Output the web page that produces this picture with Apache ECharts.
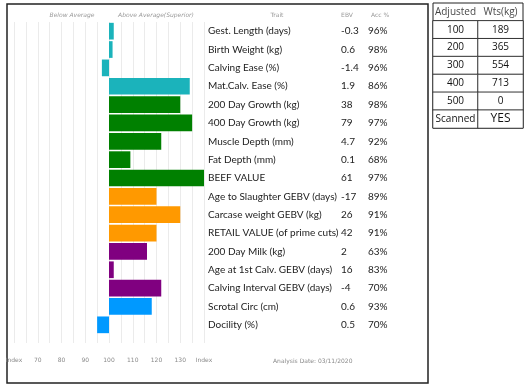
<!DOCTYPE html>
<html><head><meta charset="utf-8">
<script src="https://cdn.jsdelivr.net/npm/echarts@6/dist/echarts.min.js"></script>
<style>html,body{margin:0;padding:0;background:#fff}#c{width:528px;height:386px}</style>
</head><body><div id="c"></div>
<script>
// ---- data ----
const traits = ['Gest. Length (days)','Birth Weight (kg)','Calving Ease (%)','Mat.Calv. Ease (%)','200 Day Growth (kg)','400 Day Growth (kg)','Muscle Depth (mm)','Fat Depth (mm)','BEEF VALUE','Age to Slaughter GEBV (days)','Carcase weight GEBV (kg)','RETAIL VALUE (of prime cuts)','200 Day Milk (kg)','Age at 1st Calv. GEBV (days)','Calving Interval GEBV (days)','Scrotal Circ (cm)','Docility (%)'];
const indexValues = [102,101.5,97,134,130,135,122,109,140,120,130,120,116,102,122,118,95];
const ebvs = ['-0.3','0.6','-1.4','1.9','38','79','4.7','0.1','61','-17','26','42','2','16','-4','0.6','0.5'];
const accs = ['96%','98%','96%','86%','98%','97%','92%','68%','97%','89%','91%','91%','63%','83%','70%','93%','70%'];
const groups = [0,0,0,0,1,1,1,1,1,2,2,2,3,3,3,4,4];
const groupColors = ['#1bb3bb','#008000','#ff9900','#800080','#0099ff'];
const indexTicks = [60,70,80,90,100,110,120,130,140];
const tableHeader = ['Adjusted','Wts(kg)'];
const weightAges = ['100','200','300','400','500','Scanned'];
const adjustedWts = ['189','365','554','713','0','YES'];
const analysisDate = '03/11/2020';

const chart = echarts.init(document.getElementById('c'));
const rowCats = traits.map((t,i)=>String(i));
const tableRows = ['h'].concat(weightAges);
const heatData = [];
weightAges.forEach((a,i)=>{ heatData.push([0,i+1,0]); heatData.push([1,i+1,0]); });
const txt = {color:'#222', fontFamily:'Lato', fontSize:10};
chart.setOption({
  animation:false,
  grid:[
    {left:14,right:324,top:22,bottom:43},
    {left:14,right:324,top:22,height:312},
    {left:433,right:5,top:3,height:125,show:true,borderColor:'#222',borderWidth:1,backgroundColor:'#fff'}
  ],
  xAxis:[
    {gridIndex:0,type:'value',min:60,max:140,interval:5,
     splitLine:{show:true,lineStyle:{color:'#ebebeb',width:1}},
     axisLine:{show:false},axisTick:{show:false},
     axisLabel:{margin:14,fontSize:6,color:'#8a8a8a',fontFamily:'DejaVu Sans',
       formatter:v=> indexTicks.indexOf(v)<0 ? '' : ((v===60||v===140)?'Index':String(v))}},
    {gridIndex:1,type:'value',min:-40,max:40,show:false},
    {gridIndex:2,type:'category',data:tableHeader,show:false}
  ],
  yAxis:[
    {gridIndex:0,type:'value',show:false},
    {gridIndex:1,type:'category',data:rowCats,inverse:true,position:'right',
     axisLine:{show:false},axisTick:{show:false},
     axisLabel:Object.assign({margin:4,formatter:(v,i)=>traits[i]},txt)},
    {gridIndex:1,type:'category',data:rowCats,inverse:true,position:'right',offset:133,
     axisLine:{show:false},axisTick:{show:false},
     axisLabel:Object.assign({margin:4,formatter:(v,i)=>ebvs[i]},txt)},
    {gridIndex:1,type:'category',data:rowCats,inverse:true,position:'right',offset:160,
     axisLine:{show:false},axisTick:{show:false},
     axisLabel:Object.assign({margin:4,formatter:(v,i)=>accs[i]},txt)},
    {gridIndex:2,type:'category',data:tableRows,inverse:true,show:false}
  ],
  series:[
    {type:'bar',xAxisIndex:1,yAxisIndex:1,barCategoryGap:'9%',
     data:indexValues.map((v,i)=>({value:v-100,itemStyle:{color:groupColors[groups[i]]}}))},
    {type:'heatmap',xAxisIndex:2,yAxisIndex:4,data:heatData,
     itemStyle:{color:'#fff',borderColor:'#333',borderWidth:1},
     label:{show:true,fontFamily:'Open Sans',fontSize:10,color:'#111',
       formatter:p=>{const r=p.data[1]-1; const c=p.data[0]; const t=c===0?weightAges[r]:adjustedWts[r];
         return r===5&&c===1?'{b|'+t+'}':t;},
       rich:{b:{fontSize:12,fontFamily:'Open Sans',color:'#111'}}},
     emphasis:{disabled:true}},
    {type:'scatter',xAxisIndex:2,yAxisIndex:4,symbolSize:0,
     data:tableHeader.map((h,i)=>[i,0]),
     label:{show:true,position:'inside',fontFamily:'Open Sans',fontSize:10,color:'#111',
       formatter:p=>tableHeader[p.dataIndex]}}
  ],
  graphic:[
    {type:'rect',shape:{x:7,y:4,width:421,height:379},style:{fill:'none',stroke:'#222',lineWidth:1.5}},
    {type:'text',x:72,y:15,style:{text:'Below Average',fontSize:6,fill:'#999',fontStyle:'italic',fontFamily:'DejaVu Sans',align:'center',verticalAlign:'middle'}},
    {type:'text',x:156,y:15,style:{text:'Above Average(Superior)',fontSize:6,fill:'#999',fontStyle:'italic',fontFamily:'DejaVu Sans',align:'center',verticalAlign:'middle'}},
    {type:'text',x:277,y:15,style:{text:'Trait',fontSize:6,fill:'#999',fontFamily:'DejaVu Sans',align:'center',verticalAlign:'middle'}},
    {type:'text',x:347,y:15,style:{text:'EBV',fontSize:6,fill:'#999',fontFamily:'DejaVu Sans',align:'center',verticalAlign:'middle'}},
    {type:'text',x:380,y:15,style:{text:'Acc %',fontSize:6,fill:'#999',fontFamily:'DejaVu Sans',align:'center',verticalAlign:'middle'}},
    {type:'text',x:273,y:361,style:{text:'Analysis Date: '+analysisDate,fontSize:6,fill:'#8a8a8a',fontFamily:'DejaVu Sans',align:'left',verticalAlign:'middle'}}
  ]
});
</script></body></html>
